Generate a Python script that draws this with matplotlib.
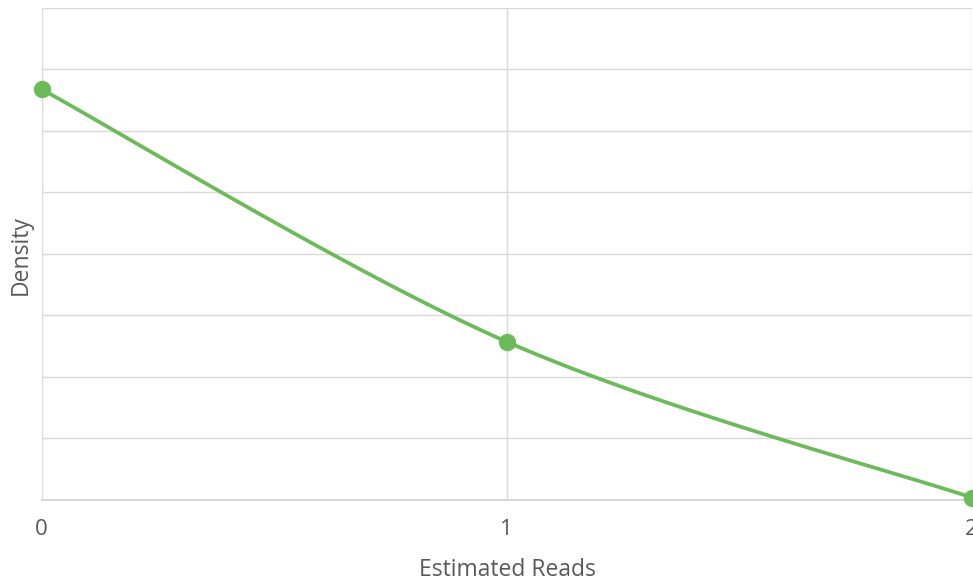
import matplotlib.pyplot as plt
import numpy as np

# data
reads = [0, 1, 2]
density = [0.667, 0.257, 0.004]

green = "#6CBB5A"
grid_c = "#D9D9D9"
txt_c = "#595959"

plt.rcParams["font.family"] = ["Open Sans", "DejaVu Sans"]

fig = plt.figure(figsize=(9.73, 5.83), dpi=100)
ax = fig.add_axes([0.0429, 0.1424, 0.9558, 0.8447])


# smoothed line (Excel style bezier through the points)
def smooth(xs, ys, n=60):
    p = np.column_stack([xs, ys]).astype(float)
    p = np.vstack([p[0], p, p[-1]])
    out = []
    t = np.linspace(0, 1, n)[:, None]
    for i in range(1, len(p) - 2):
        p0, p1, p2, p3 = p[i - 1], p[i], p[i + 1], p[i + 2]
        c1 = p1 + (p2 - p0) / 6
        c2 = p2 - (p3 - p1) / 6
        seg = (1 - t) ** 3 * p1 + 3 * (1 - t) ** 2 * t * c1 + 3 * (1 - t) * t**2 * c2 + t**3 * p2
        out.append(seg)
    out = np.vstack(out)
    return out[:, 0], out[:, 1]


sx, sy = smooth(reads, density)
ax.plot(sx, sy, color=green, lw=2.7, clip_on=False, solid_capstyle="round", zorder=3)
ax.plot(reads, density, "o", color=green, ms=11.5, clip_on=False, zorder=4)

ax.set_xlim(0, 2)
ax.set_ylim(0, 0.8)
ax.set_xticks([0, 1, 2])
ax.set_yticks(np.arange(0, 0.81, 0.1))
ax.set_yticklabels([])
ax.grid(True, color=grid_c, lw=1)
ax.set_axisbelow(True)
for s in ["top", "right", "left"]:
    ax.spines[s].set_visible(False)
ax.spines["bottom"].set_color("#CFCFCF")
ax.spines["bottom"].set_linewidth(1.2)
ax.tick_params(length=0, labelsize=16, labelcolor=txt_c, pad=14)

fig.text(507 / 973, 1 - 576.5 / 583, "Estimated Reads", fontsize=16.5,
         color=txt_c, ha="center", va="baseline")
fig.text(21 / 973, 1 - 255 / 583, "Density", fontsize=16.5, color=txt_c,
         rotation=90, ha="center", va="center")

plt.savefig("out.png")
